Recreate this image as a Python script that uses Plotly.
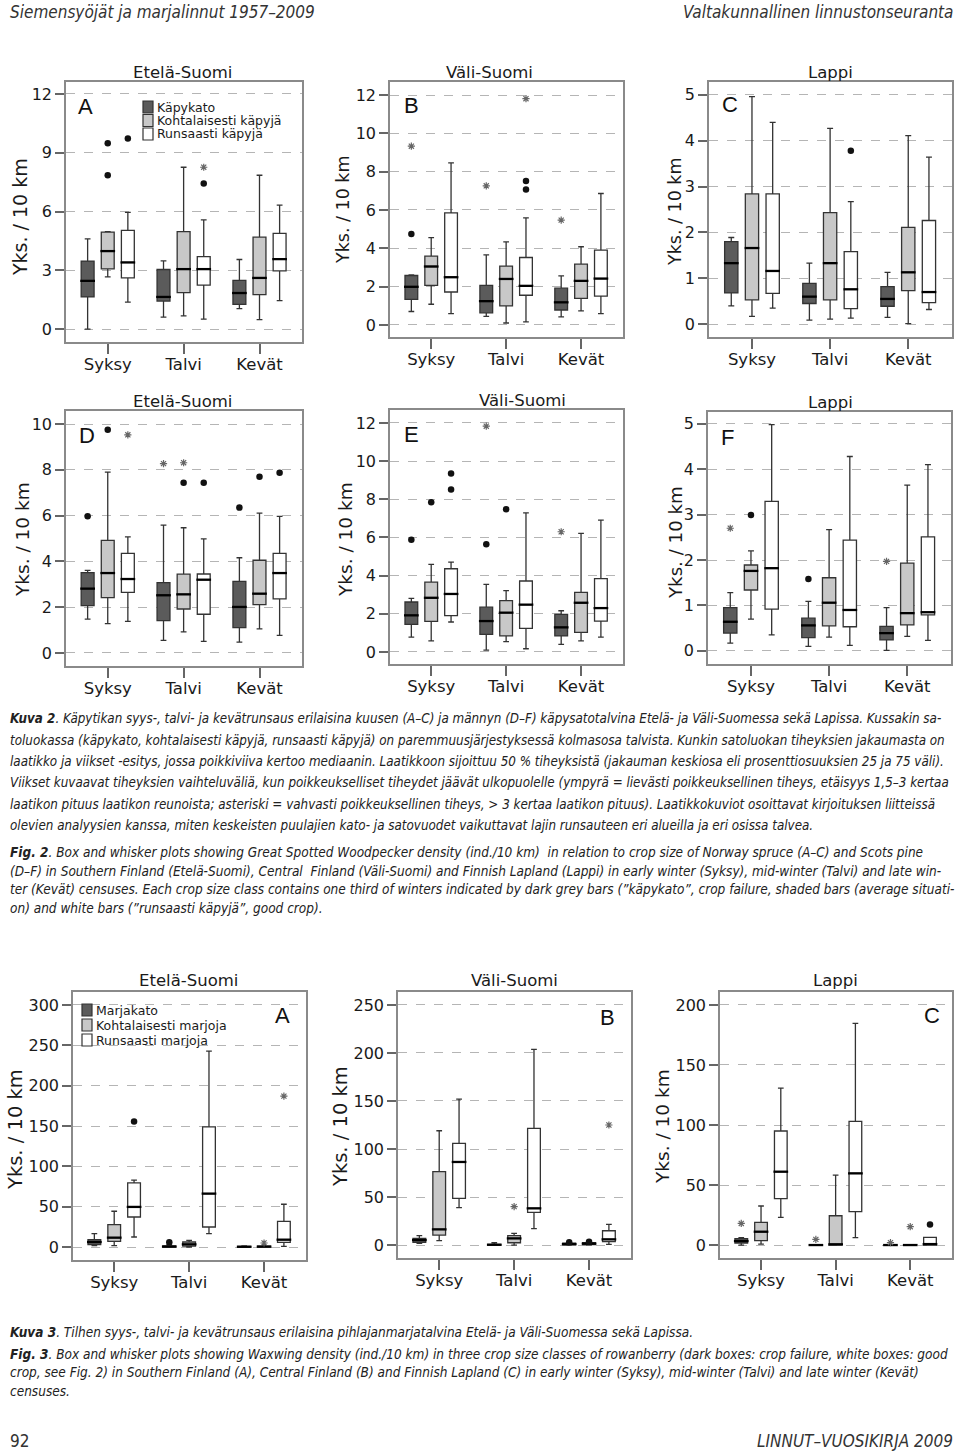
import plotly.graph_objects as go

W, H = 960, 1452
SEASONS = ["Syksy", "Talvi", "Kevät"]
SPRUCE_CLASSES = ["Käpykato", "Kohtalaisesti käpyjä", "Runsaasti käpyjä"]
ROWAN_CLASSES = ["Marjakato", "Kohtalaisesti marjoja", "Runsaasti marjoja"]

# ---- data: [class][season]; classes = crop failure, average, good crop ----
# Panel A  (spruce, Etelä-Suomi)
A_low = [[0.00, 0.61, 1.04], [2.66, 0.67, 0.48], [1.38, 0.51, 1.45]]
A_q1 = [[1.64, 1.43, 1.26], [3.07, 1.86, 1.76], [2.61, 2.24, 2.97]]
A_med = [[2.46, 1.64, 1.84], [3.98, 3.06, 2.61], [3.40, 3.06, 3.57]]
A_q3 = [[3.47, 3.04, 2.49], [4.95, 4.97, 4.69], [5.04, 3.70, 4.88]]
A_high = [[4.60, 3.48, 3.55], [4.97, 8.26, 7.85], [5.96, 5.57, 6.33]]
A_circles = [(1, 0, 9.49), (1, 0, 7.85), (2, 0, 9.73), (2, 1, 7.43)]
A_stars = [(2, 1, 8.26)]
# Panel B  (spruce, Väli-Suomi)
B_low = [[0.70, 0.45, 0.42], [1.08, 0.10, 0.73], [0.59, 0.16, 0.59]]
B_q1 = [[1.33, 0.63, 0.78], [2.06, 0.99, 1.39], [1.72, 1.55, 1.50]]
B_med = [[1.99, 1.24, 1.18], [3.05, 2.40, 2.30], [2.49, 2.04, 2.42]]
B_q3 = [[2.58, 2.06, 1.92], [3.59, 3.07, 3.17], [5.85, 3.52, 3.90]]
B_high = [[2.61, 3.66, 2.56], [4.56, 4.34, 4.08], [8.46, 5.59, 6.86]]
B_circles = [(0, 0, 4.74), (2, 1, 7.51), (2, 1, 7.07)]
B_stars = [(0, 0, 9.33), (0, 1, 7.26), (2, 1, 11.81), (0, 2, 5.47)]
# Panel C  (spruce, Lappi)
C_low = [[0.40, 0.09, 0.15], [0.17, 0.11, 0.01], [0.35, 0.13, 0.32]]
C_q1 = [[0.68, 0.45, 0.39], [0.53, 0.53, 0.73], [0.67, 0.34, 0.47]]
C_med = [[1.33, 0.60, 0.55], [1.66, 1.33, 1.13], [1.16, 0.76, 0.70]]
C_q3 = [[1.80, 0.89, 0.82], [2.84, 2.43, 2.11], [2.84, 1.58, 2.26]]
C_high = [[1.89, 1.33, 1.13], [4.96, 4.27, 4.11], [4.40, 2.67, 3.64]]
C_circles = [(2, 1, 3.78)]
C_stars = []
# Panel D  (pine, Etelä-Suomi)
D_low = [[1.48, 0.55, 0.47], [1.28, 0.92, 1.05], [1.38, 0.51, 0.77]]
D_q1 = [[2.07, 1.41, 1.11], [2.42, 1.92, 2.11], [2.65, 1.69, 2.36]]
D_med = [[2.81, 2.52, 2.01], [3.49, 2.56, 2.59], [3.23, 3.20, 3.49]]
D_q3 = [[3.51, 3.07, 3.13], [4.92, 3.44, 4.05], [4.35, 3.45, 4.35]]
D_high = [[3.61, 5.58, 4.16], [7.90, 5.47, 6.11], [5.07, 4.98, 5.97]]
D_circles = [(0, 0, 5.97), (1, 0, 9.75), (1, 1, 7.44), (2, 1, 7.44),
             (0, 2, 6.35), (1, 2, 7.70), (2, 2, 7.87)]
D_stars = [(2, 0, 9.53), (0, 1, 8.27), (1, 1, 8.31)]
# Panel E  (pine, Väli-Suomi)
E_low = [[0.78, 0.10, 0.40], [0.58, 0.54, 0.58], [1.57, 0.17, 0.78]]
E_q1 = [[1.45, 0.92, 0.84], [1.60, 0.84, 1.03], [1.90, 1.24, 1.62]]
E_med = [[1.92, 1.62, 1.29], [2.84, 2.06, 2.58], [3.04, 2.48, 2.30]]
E_q3 = [[2.62, 2.35, 1.97], [3.66, 2.69, 3.12], [4.36, 3.72, 3.84]]
E_high = [[2.81, 3.54, 2.16], [4.59, 3.21, 6.21], [4.71, 7.29, 6.91]]
E_circles = [(0, 0, 5.88), (1, 0, 7.85), (2, 0, 9.35), (2, 0, 8.51),
             (0, 1, 5.65), (1, 1, 7.48)]
E_stars = [(0, 1, 11.83), (0, 2, 6.30)]
# Panel F  (pine, Lappi)
F_low = [[0.17, 0.10, 0.01], [0.70, 0.30, 0.32], [0.35, 0.12, 0.23]]
F_q1 = [[0.39, 0.29, 0.24], [1.34, 0.55, 0.57], [0.92, 0.53, 0.79]]
F_med = [[0.64, 0.56, 0.39], [1.76, 1.06, 0.83], [1.82, 0.90, 0.85]]
F_q3 = [[0.95, 0.72, 0.54], [1.89, 1.61, 1.93], [3.29, 2.44, 2.51]]
F_high = [[1.28, 1.09, 0.95], [2.20, 2.67, 3.65], [4.98, 4.28, 4.10]]
F_circles = [(1, 0, 2.99), (0, 1, 1.58)]
F_stars = [(0, 0, 2.70), (0, 2, 1.97)]
# Panel G  (rowan, Etelä-Suomi)
G_low = [[1.7, 0.0, 0.0], [1.7, 0.0, 0.0], [12.4, 16.6, 0.8]]
G_q1 = [[2.9, 0.0, 0.0], [7.0, 1.2, 0.0], [37.2, 24.8, 5.8]]
G_med = [[6.2, 0.5, 0.3], [11.6, 3.3, 0.5], [49.7, 66.2, 9.1]]
G_q3 = [[9.1, 1.5, 0.7], [27.7, 6.2, 1.0], [79.4, 149.0, 31.9]]
G_high = [[16.6, 3.0, 1.5], [44.3, 8.3, 2.0], [82.8, 242.9, 53.0]]
G_circles = [(2, 0, 155.6), (0, 1, 6.0)]
G_stars = [(1, 2, 5.0), (2, 2, 187.0)]
# Panel H  (rowan, Väli-Suomi)
H_low = [[1.7, 0.0, 0.0], [4.5, 0.0, 0.0], [38.9, 17.0, 0.7]]
H_q1 = [[2.8, 0.0, 0.3], [10.4, 2.4, 0.5], [48.6, 34.0, 3.5]]
H_med = [[5.2, 0.3, 1.0], [16.3, 6.9, 1.5], [86.5, 38.2, 5.9]]
H_q3 = [[6.9, 0.7, 2.0], [76.4, 9.7, 2.5], [105.9, 121.5, 14.9]]
H_high = [[9.7, 2.4, 3.0], [119.0, 12.2, 4.0], [152.0, 203.8, 21.5]]
H_circles = [(0, 2, 3.0), (1, 2, 3.5)]
H_stars = [(1, 1, 40.0), (2, 2, 125.0)]
# Panel I  (rowan, Lappi)
I_low = [[0.0, 0.0, 0.0], [0.8, 0.0, 0.0], [23.0, 6.1, 0.0]]
I_q1 = [[1.7, 0.0, 0.0], [3.6, 0.0, 0.0], [38.6, 27.8, 0.0]]
I_med = [[3.3, 0.0, 0.0], [11.1, 0.6, 0.0], [61.1, 59.7, 0.8]]
I_q3 = [[5.3, 0.0, 0.0], [18.9, 24.4, 0.0], [95.0, 103.0, 6.4]]
I_high = [[6.1, 0.0, 0.0], [32.5, 58.3, 0.0], [130.8, 184.7, 6.4]]
I_circles = [(2, 2, 17.2)]
I_stars = [(0, 0, 18.0), (0, 1, 4.7), (0, 2, 2.0), (1, 2, 15.3)]

A_ticks = [0, 3, 6, 9, 12]
B_ticks = [0, 2, 4, 6, 8, 10, 12]
C_ticks = [0, 1, 2, 3, 4, 5]
D_ticks = [0, 2, 4, 6, 8, 10]
E_ticks = [0, 2, 4, 6, 8, 10, 12]
F_ticks = [0, 1, 2, 3, 4, 5]
G_ticks = [0, 50, 100, 150, 200, 250, 300]
H_ticks = [0, 50, 100, 150, 200, 250]
I_ticks = [0, 50, 100, 150, 200]

# ---- layout / styling (pixel geometry) ----
FILLS = ["#5b5b5b", "#c8c8c8", "#ffffff"]
OFFSETS = [-0.265, 0.0, 0.265]
FONT = "DejaVu Sans"
CAPFONT = "Liberation Sans Narrow, DejaVu Sans Condensed, sans-serif"

panels = [
    dict(d=(A_low, A_q1, A_med, A_q3, A_high, A_circles, A_stars), ticks=A_ticks,
         frame=(66, 302, 82, 342), yr=(-0.66, 12.61), title="Etelä-Suomi", txy=(182, 72),
         yxy=(20, 217), ys=19, letter="A", lxy=(85, 106)),
    dict(d=(B_low, B_q1, B_med, B_q3, B_high, B_circles, B_stars), ticks=B_ticks,
         frame=(390, 623, 82, 337), yr=(-0.63, 12.68), title="Väli-Suomi", txy=(490, 72),
         yxy=(343, 210), ys=17.5, letter="B", lxy=(411, 105)),
    dict(d=(C_low, C_q1, C_med, C_q3, C_high, C_circles, C_stars), ticks=C_ticks,
         frame=(709, 952, 82, 337), yr=(-0.28, 5.28), title="Lappi", txy=(830, 72),
         yxy=(675, 212), ys=17.5, letter="C", lxy=(730, 104)),
    dict(d=(D_low, D_q1, D_med, D_q3, D_high, D_circles, D_stars), ticks=D_ticks,
         frame=(66, 302, 411, 666), yr=(-0.57, 10.57), title="Etelä-Suomi", txy=(182, 401),
         yxy=(22, 540), ys=18.5, letter="D", lxy=(87, 435)),
    dict(d=(E_low, E_q1, E_med, E_q3, E_high, E_circles, E_stars), ticks=E_ticks,
         frame=(390, 623, 410, 664), yr=(-0.63, 12.68), title="Väli-Suomi", txy=(522, 400),
         yxy=(345, 540), ys=18.5, letter="E", lxy=(411, 434)),
    dict(d=(F_low, F_q1, F_med, F_q3, F_high, F_circles, F_stars), ticks=F_ticks,
         frame=(708, 951, 412, 664), yr=(-0.29, 5.26), title="Lappi", txy=(830, 402),
         yxy=(675, 543), ys=18.2, letter="F", lxy=(727, 437)),
    dict(d=(G_low, G_q1, G_med, G_q3, G_high, G_circles, G_stars), ticks=G_ticks,
         frame=(73, 306, 992, 1260), yr=(-16.1, 316.1), title="Etelä-Suomi", txy=(188, 980),
         yxy=(15, 1130), ys=19.5, letter="A", lxy=(282, 1015)),
    dict(d=(H_low, H_q1, H_med, H_q3, H_high, H_circles, H_stars), ticks=H_ticks,
         frame=(398, 631, 992, 1258), yr=(-13.5, 263.5), title="Väli-Suomi", txy=(514, 980),
         yxy=(340, 1127), ys=19.5, letter="B", lxy=(607, 1017)),
    dict(d=(I_low, I_q1, I_med, I_q3, I_high, I_circles, I_stars), ticks=I_ticks,
         frame=(720, 952, 992, 1258), yr=(-10.8, 210.8), title="Lappi", txy=(835, 980),
         yxy=(662, 1127), ys=18.5, letter="C", lxy=(932, 1015)),
]


def px(x):
    return x / W


def py(y):
    return 1 - y / H


fig = go.Figure()
annotations = []
shapes = []

for i, p in enumerate(panels):
    n = i + 1
    xa = "x" if n == 1 else f"x{n}"
    ya = "y" if n == 1 else f"y{n}"
    low, q1, med, q3, high, circles, stars = p["d"]
    for c in range(3):
        xs = [s + OFFSETS[c] for s in range(3)]
        fig.add_trace(go.Box(
            x=xs, q1=q1[c], median=med[c], q3=q3[c], lowerfence=low[c], upperfence=high[c],
            fillcolor=FILLS[c], line=dict(color="#333333", width=1.3),
            width=0.17, whiskerwidth=0.45, boxpoints=False,
            xaxis=xa, yaxis=ya, showlegend=False, hoverinfo="skip"))
        # emphasised median bar
        fig.add_trace(go.Scatter(
            x=xs, y=med[c], mode="markers",
            marker=dict(symbol="line-ew", size=10.5, color="#000000",
                        line=dict(color="#000000", width=2.3)),
            xaxis=xa, yaxis=ya, showlegend=False, hoverinfo="skip"))
    if circles:
        fig.add_trace(go.Scatter(
            x=[s + OFFSETS[c] for c, s, v in circles], y=[v for c, s, v in circles],
            mode="markers", marker=dict(symbol="circle", size=6.5, color="#111111"),
            xaxis=xa, yaxis=ya, showlegend=False, hoverinfo="skip"))
    if stars:
        fig.add_trace(go.Scatter(
            x=[s + OFFSETS[c] for c, s, v in stars], y=[v for c, s, v in stars],
            mode="markers",
            marker=dict(symbol="asterisk-open", size=6, color="#666666",
                        line=dict(color="#666666", width=1.2)),
            xaxis=xa, yaxis=ya, showlegend=False, hoverinfo="skip"))

    l, r, t, b = p["frame"]
    axis_common = dict(showline=True, mirror=True, linecolor="#8a8a8a", linewidth=1.6,
                       ticks="outside", tickcolor="#666666", tickwidth=1.5, zeroline=False)
    fig.layout[f"xaxis{'' if n == 1 else n}"] = dict(
        domain=[px(l), px(r)], range=[-0.55, 2.56], anchor=ya,
        tickvals=[0, 1, 2], ticktext=SEASONS, ticklen=10, showgrid=False,
        ticklabelstandoff=-4,
        tickfont=dict(family=FONT, size=16.5, color="#1a1a1a"), **axis_common)
    fig.layout[f"yaxis{'' if n == 1 else n}"] = dict(
        domain=[py(b), py(t)], range=list(p["yr"]), anchor=xa,
        tickvals=p["ticks"], ticklen=9, showgrid=True, gridcolor="#b5b5b5",
        griddash="dash", gridwidth=1,
        tickfont=dict(family=FONT, size=16, color="#1a1a1a"), **axis_common)

    annotations.append(dict(text=p["title"], x=px(p["txy"][0]), y=py(p["txy"][1]),
                            xref="paper", yref="paper", showarrow=False,
                            xanchor="center", yanchor="middle",
                            font=dict(family=FONT, size=16.5, color="#1a1a1a")))
    annotations.append(dict(text="Yks. / 10 km", x=px(p["yxy"][0]), y=py(p["yxy"][1]),
                            xref="paper", yref="paper", showarrow=False, textangle=-90,
                            xanchor="center", yanchor="middle",
                            font=dict(family=FONT, size=p["ys"], color="#1a1a1a")))
    annotations.append(dict(text=p["letter"], x=px(p["lxy"][0]), y=py(p["lxy"][1]),
                            xref="paper", yref="paper", showarrow=False,
                            xanchor="center", yanchor="middle",
                            font=dict(family="Liberation Sans, Arial", size=22, color="#111111")))


def add_legend(names, x0, ys):
    for name, fill, yc in zip(names, FILLS, ys):
        shapes.append(dict(type="rect", xref="paper", yref="paper",
                           x0=px(x0), x1=px(x0 + 10), y0=py(yc + 6), y1=py(yc - 6),
                           fillcolor=fill, line=dict(color="#333333", width=1.2)))
        annotations.append(dict(text=name, x=px(x0 + 12), y=py(yc), xref="paper",
                                yref="paper", showarrow=False, xanchor="left",
                                yanchor="middle",
                                font=dict(family=FONT, size=12.5, color="#1a1a1a")))


add_legend(SPRUCE_CLASSES, 143, [107, 120.5, 134])
add_legend(ROWAN_CLASSES, 82, [1010, 1025, 1040])


def txt(s, x, y, size=13.5, anchor="left", color="#222222"):
    annotations.append(dict(text=s, x=px(x), y=py(y), xref="paper", yref="paper",
                            showarrow=False, xanchor=anchor, yanchor="middle",
                            font=dict(family=CAPFONT, size=size, color=color)))


txt("<i>Siemensyöjät ja marjalinnut 1957–2009</i>", 8, 12, size=17, color="#333333")
txt("<i>Valtakunnallinen linnustonseuranta</i>", 955, 12, size=17, anchor="right",
    color="#333333")

kuva2 = [
    "<b><i>Kuva 2</i></b><i>. Käpytikan syys-, talvi- ja kevätrunsaus erilaisina kuusen (A–C) ja männyn (D–F) käpysatotalvina Etelä- ja Väli-Suomessa sekä Lapissa. Kussakin sa-</i>",
    "<i>toluokassa (käpykato, kohtalaisesti käpyjä, runsaasti käpyjä) on paremmuusjärjestyksessä kolmasosa talvista. Kunkin satoluokan tiheyksien jakaumasta on</i>",
    "<i>laatikko ja viikset -esitys, jossa poikkiviiva kertoo mediaanin. Laatikkoon sijoittuu 50 % tiheyksistä (jakauman keskiosa eli prosenttiosuuksien 25 ja 75 väli).</i>",
    "<i>Viikset kuvaavat tiheyksien vaihteluväliä, kun poikkeukselliset tiheydet jäävät ulkopuolelle (ympyrä = lievästi poikkeuksellinen tiheys, etäisyys 1,5–3 kertaa</i>",
    "<i>laatikon pituus laatikon reunoista; asteriski = vahvasti poikkeuksellinen tiheys, > 3 kertaa laatikon pituus). Laatikkokuviot osoittavat kirjoituksen liitteissä</i>",
    "<i>olevien analyysien kanssa, miten keskeisten puulajien kato- ja satovuodet vaikuttavat lajin runsauteen eri alueilla ja eri osissa talvea.</i>",
]
for k, line in enumerate(kuva2):
    txt(line, 8, 719 + 21.3 * k, size=13.3)

fig2 = [
    "<b><i>Fig. 2</i></b><i>. Box and whisker plots showing Great Spotted Woodpecker density (ind./10 km)  in relation to crop size of Norway spruce (A–C) and Scots pine</i>",
    "<i>(D–F) in Southern Finland (Etelä-Suomi), Central  Finland (Väli-Suomi) and Finnish Lapland (Lappi) in early winter (Syksy), mid-winter (Talvi) and late win-</i>",
    "<i>ter (Kevät) censuses. Each crop size class contains one third of winters indicated by dark grey bars (”käpykato”, crop failure, shaded bars (average situati-</i>",
    "<i>on) and white bars (”runsaasti käpyjä”, good crop).</i>",
]
for k, line in enumerate(fig2):
    txt(line, 8, 852 + 18.5 * k)

txt("<b><i>Kuva 3</i></b><i>. Tilhen syys-, talvi- ja kevätrunsaus erilaisina pihlajanmarjatalvina Etelä- ja Väli-Suomessa sekä Lapissa.</i>",
    8, 1332)
fig3 = [
    "<b><i>Fig. 3</i></b><i>. Box and whisker plots showing Waxwing density (ind./10 km) in three crop size classes of rowanberry (dark boxes: crop failure, white boxes: good</i>",
    "<i>crop, see Fig. 2) in Southern Finland (A), Central Finland (B) and Finnish Lapland (C) in early winter (Syksy), mid-winter (Talvi) and late winter (Kevät)</i>",
    "<i>censuses.</i>",
]
for k, line in enumerate(fig3):
    txt(line, 8, 1354 + 18.3 * k)

txt("92", 8, 1441, size=17, color="#333333")
txt("<i>LINNUT–VUOSIKIRJA 2009</i>", 955, 1441, size=17, anchor="right", color="#333333")

fig.update_layout(
    width=W, height=H, margin=dict(l=0, r=0, t=0, b=0),
    paper_bgcolor="white", plot_bgcolor="white", boxmode="overlay",
    showlegend=False, annotations=annotations, shapes=shapes,
)

fig.write_html("out.html", config={"displayModeBar": False},
               post_script="document.body.style.margin='0px';")
